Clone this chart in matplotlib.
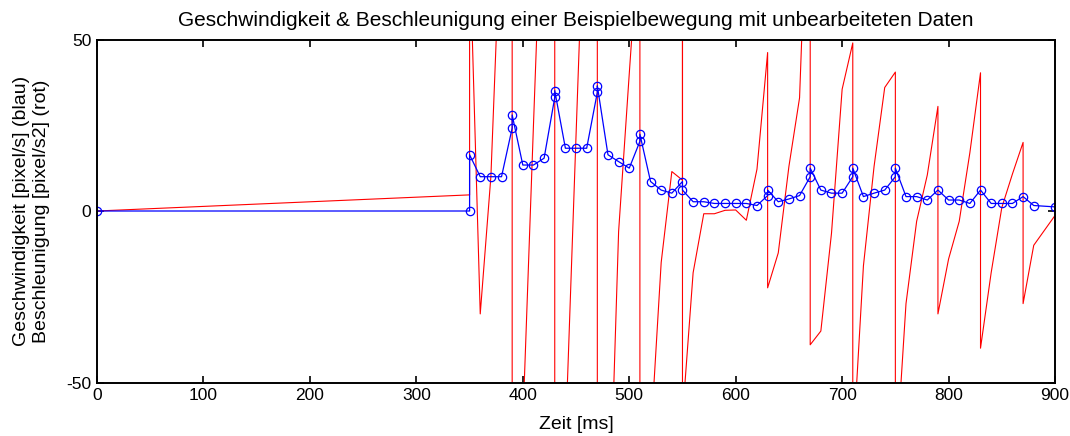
import numpy as np
import matplotlib.pyplot as plt

plt.rcParams['font.family'] = ['Liberation Sans', 'DejaVu Sans']
plt.rcParams['axes.unicode_minus'] = False

# Geschwindigkeit (blau): Zeit [ms], Wert [pixel/s]
t_v = [0, 350, 350, 360, 370, 380, 390, 390, 400, 410, 420, 430, 430, 440, 450, 460,
       470, 470, 480, 490, 500, 510, 510, 520, 530, 540, 550, 550, 560, 570, 580, 590,
       600, 610, 620, 630, 630, 640, 650, 660, 670, 670, 680, 690, 700, 710, 710, 720,
       730, 740, 750, 750, 760, 770, 780, 790, 800, 810, 820, 830, 840, 850, 860, 870,
       880, 900]
v = [0, 0, 16.4, 10, 10, 10, 24.2, 28, 13.4, 13.4, 15.4, 33.1, 35.1, 18.3, 18.3, 18.3,
     34.6, 36.5, 16.4, 14.4, 12.5, 20.3, 22.4, 8.6, 6.1, 5.2, 8.6, 6.1, 2.7, 2.7, 2.2, 2.2,
     2.2, 2.2, 1.6, 4.5, 6.1, 2.7, 3.5, 4.5, 10, 12.5, 6.1, 5.2, 5.2, 10, 12.5, 4.2,
     5.2, 6.1, 10, 12.5, 4.2, 4.2, 3.2, 6.1, 3.2, 3.2, 2.2, 6.1, 2.2, 2.2, 2.2, 4.2,
     1.6, 1.2]

# Beschleunigung (rot): Zeit [ms], Wert [pixel/s2]
t_a = [0, 350, 350, 360, 370, 380, 390, 390, 400, 410, 420, 430, 430, 440, 450, 460,
       470, 470, 480, 490, 500, 510, 510, 520, 530, 540, 550, 550, 550, 550, 560, 570,
       580, 590, 600, 610, 620, 630, 630, 640, 650, 660, 670, 670, 680, 690, 700, 710,
       710, 720, 730, 740, 750, 750, 760, 770, 780, 790, 790, 800, 810, 820, 830, 830,
       840, 850, 860, 870, 870, 880, 900]
a = [0, 4.7, 78, -30, 10, 90, 300, -300, -62, 25, 110, 300, -300, -67, 22, 110,
     300, -300, -105, -6, 40, 85, -300, -67, -15, 11.5, 9, 300, -300, -60, -18, -0.8,
     -0.8, 0.2, 0.3, -2.7, 12.2, 46.2, -22.4, -12.2, 13, 33, 118, -39, -35, -6.5, 35.5, 49,
     -70, -16, 13, 36, 40.5, -76, -27, -3, 10.5, 30.5, -30, -14, -3, 17, 40.3, -40,
     -18, 1, 10.8, 20, -27, -10, -1.3]

fig = plt.figure(figsize=(10.7, 4.36), dpi=100)
ax = fig.add_axes([0.0907, 0.1227, 0.8953, 0.7867])

ax.plot(t_a, a, color='#ff0000', linewidth=0.8)
ax.plot(t_v, v, color='#0000ff', linewidth=0.9, marker='o', markersize=6,
        markerfacecolor='none', markeredgecolor='#0000ff', markeredgewidth=0.9)

ax.set_xlim(0, 900)
ax.set_ylim(-50, 50)
ax.set_xticks(np.arange(0, 901, 100))
ax.set_yticks([-50, 0, 50])
ax.tick_params(direction='in', length=5, width=1.2, top=True, right=True,
               labelsize=12.5, pad=4)
for s in ax.spines.values():
    s.set_linewidth(1.4)

ax.set_title('Geschwindigkeit & Beschleunigung einer Beispielbewegung mit unbearbeiteten Daten',
             fontsize=15, pad=10)
ax.set_xlabel('Zeit [ms]', fontsize=14, labelpad=9)
ax.set_ylabel('Geschwindigkeit [pixel/s] (blau)\nBeschleunigung [pixel/s2] (rot)',
              fontsize=14, labelpad=12, linespacing=1.2)

fig.savefig('out.png', dpi=100)
